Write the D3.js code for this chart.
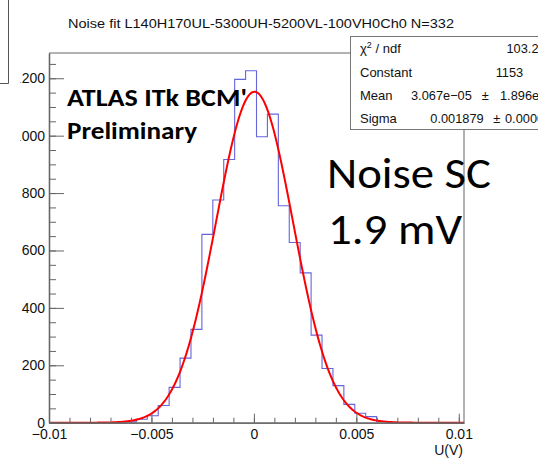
<!DOCTYPE html>
<html>
<head>
<meta charset="utf-8">
<script src="https://cdn.jsdelivr.net/npm/d3@7"></script>
<style>
  html, body { margin: 0; padding: 0; background: #fff; }
  svg { display: block; }
</style>
</head>
<body>
<svg id="chart" width="538" height="462"></svg>
<script>
// ---------------- data ----------------
const titleText = "Noise fit L140H170UL-5300UH-5200VL-100VH0Ch0 N=332";
const xAxisTitle = "U(V)";
const binStart = -0.01;
const binWidth = 0.000533;
const binCounts = [0, 0, 0, 0, 0, 0, 0, 3, 12, 24, 60, 123, 225, 325, 656, 776, 917, 1196, 1226,
                   996, 1075, 756, 628, 522, 305, 189, 129, 64, 33, 21, 4, 0, 0, 0, 0, 0, 0, 0];
const fitNames = ["Constant", "Mean", "Sigma"];
const fitValues = [1153, 3.067e-05, 0.001879];
const statLabels = ["χ² / ndf", "Constant", "Mean", "Sigma"];
const statValues = ["103.2 / 27", "1153", "3.067e−05", "0.001879"];
const statErrors = ["", "27.3", "1.896e−05", "0.000021"];
const xTickValues = [-0.01, -0.005, 0, 0.005, 0.01];
const xTickLabels = ["−0.01", "−0.005", "0", "0.005", "0.01"];
const xMinorValues = [-0.01, -0.009, -0.008, -0.007, -0.006, -0.005, -0.004, -0.003, -0.002, -0.001, 0,
                      0.001, 0.002, 0.003, 0.004, 0.005, 0.006, 0.007, 0.008, 0.009, 0.01];
const yTickValues = [0, 200, 400, 600, 800, 1000, 1200];
const yMinorValues = [0, 50, 100, 150, 200, 250, 300, 350, 400, 450, 500, 550, 600, 650, 700, 750, 800,
                      850, 900, 950, 1000, 1050, 1100, 1150, 1200, 1250];
const annotations = ["ATLAS ITk BCM'", "Preliminary"];
const noteLines = ["Noise SC", "1.9 mV"];

// ---------------- layout ----------------
const svg = d3.select("#chart");
const L = 49, R = 464, T = 53, B = 422.7;
const x = d3.scaleLinear().domain([binStart, binStart + binCounts.length * binWidth]).range([L, R]);
const y = d3.scaleLinear().domain([0, 1288]).range([B, T]);
const axisColor = "#666";
const rootFont = "'Liberation Sans', Arial, Helvetica, sans-serif";
const slideFont = "Carlito, Lato, 'Open Sans', sans-serif";

// top-left stray box
svg.append("path").attr("d", "M0,83.5H8.5V0").attr("fill", "none").attr("stroke", "#555").attr("stroke-width", 1);

// title
svg.append("text").attr("x", 68).attr("y", 28).attr("font-family", rootFont).attr("font-size", 13)
  .attr("fill", "#111").text(titleText).attr("textLength", 386).attr("lengthAdjust", "spacingAndGlyphs");

// frame top / right
svg.append("path").attr("d", `M${L},${T}H${R}V${B}`).attr("fill", "none")
  .attr("stroke", axisColor).attr("stroke-width", 1);

// histogram step outline
const histPts = [];
binCounts.forEach((c, i) => {
  const x0 = binStart + i * binWidth, x1 = binStart + (i + 1) * binWidth;
  histPts.push([x(x0), y(c)], [x(x1), y(c)]);
});
svg.append("path").attr("d", d3.line()(histPts)).attr("fill", "none")
  .attr("stroke", "#4a4ad6").attr("stroke-width", 1.1).attr("stroke-opacity", 0.85);

// fit curve (gaussian from fit parameters)
const [cst, mu, sg] = fitValues;
const xs = d3.range(0, 401).map(i => x.domain()[0] + i * (x.domain()[1] - x.domain()[0]) / 400);
svg.append("path")
  .attr("d", d3.line().x(d => x(d)).y(d => y(cst * Math.exp(-0.5 * ((d - mu) / sg) ** 2)))(xs))
  .attr("fill", "none").attr("stroke", "#ff0000").attr("stroke-width", 2);

// axes
const gx = svg.append("g").attr("transform", `translate(0,${B})`);
gx.call(d3.axisBottom(x).tickValues(xMinorValues).tickSize(-5).tickSizeOuter(0).tickFormat(""));
gx.append("g").call(d3.axisBottom(x).tickValues(xTickValues).tickSize(-9).tickSizeOuter(0)
  .tickPadding(6.5).tickFormat((d, i) => xTickLabels[i]));
gx.selectAll("path.domain").attr("stroke", axisColor).attr("stroke-width", 1.3);
gx.selectAll("line").attr("stroke", axisColor);
gx.selectAll("text").attr("font-family", rootFont).attr("font-size", 14).attr("fill", "#111");

const clip = svg.append("clipPath").attr("id", "ylabclip");
clip.append("rect").attr("x", 20.5).attr("y", 0).attr("width", 520).attr("height", 462);
const gyOuter = svg.append("g").attr("clip-path", "url(#ylabclip)");
const gy = gyOuter.append("g").attr("transform", `translate(${L},0)`);
gy.append("g").call(d3.axisLeft(y).tickValues(yMinorValues).tickSize(-7).tickSizeOuter(0).tickFormat(""));
gy.append("g").call(d3.axisLeft(y).tickValues(yTickValues).tickSize(-15).tickSizeOuter(0)
  .tickPadding(4).tickFormat(d3.format("d")));
gy.selectAll("path.domain").attr("stroke", axisColor).attr("stroke-width", 1.3);
gy.selectAll("line").attr("stroke", axisColor);
gy.selectAll("text").attr("font-family", rootFont).attr("font-size", 14).attr("fill", "#111");

// x axis title
svg.append("text").attr("x", 463).attr("y", 455).attr("text-anchor", "end")
  .attr("font-family", rootFont).attr("font-size", 14).attr("fill", "#111").text(xAxisTitle);

// stats box
const sb = svg.append("g");
sb.append("rect").attr("x", 350.5).attr("y", 36.5).attr("width", 200).attr("height", 93)
  .attr("fill", "#fff").attr("stroke", "#777").attr("stroke-width", 1);
const rowBase = [53, 76.5, 100, 123];
const valStart = [506.5, 495.7, 411, 430.3];
const pmStart = [0, 541, 481.7, 493.3];
const errStart = [0, 552, 500, 505];
statLabels.forEach((lab, i) => {
  const t = sb.append("text").attr("x", 360).attr("y", rowBase[i]).attr("font-family", rootFont)
    .attr("font-size", 13).attr("fill", "#111");
  if (i === 0) {
    t.append("tspan").text("χ");
    t.append("tspan").attr("font-size", 9).attr("dy", -5).text("2");
    t.append("tspan").attr("dy", 5).text(" / ndf");
  } else {
    t.text(lab);
  }
  sb.append("text").attr("x", valStart[i]).attr("y", rowBase[i]).attr("font-family", rootFont)
    .attr("font-size", 12.8).attr("fill", "#111").text(statValues[i]);
  if (statErrors[i]) {
    sb.append("text").attr("x", pmStart[i]).attr("y", rowBase[i]).attr("font-family", rootFont)
      .attr("font-size", 12.8).attr("fill", "#111").text("±");
    sb.append("text").attr("x", errStart[i]).attr("y", rowBase[i]).attr("font-family", rootFont)
      .attr("font-size", 12.8).attr("fill", "#111").text(statErrors[i]);
  }
});

// slide annotations
svg.append("text").attr("x", 67).attr("y", 105.5).attr("font-family", slideFont).attr("font-weight", 700)
  .attr("font-size", 25).attr("fill", "#000").text(annotations[0])
  .attr("textLength", 180).attr("lengthAdjust", "spacingAndGlyphs");
svg.append("text").attr("x", 67).attr("y", 138.5).attr("font-family", slideFont).attr("font-weight", 700)
  .attr("font-size", 25).attr("fill", "#000").text(annotations[1])
  .attr("textLength", 130).attr("lengthAdjust", "spacingAndGlyphs");
svg.append("text").attr("x", 327).attr("y", 187.5).attr("font-family", slideFont)
  .attr("font-size", 42.5).attr("fill", "#000").text(noteLines[0])
  .attr("textLength", 164).attr("lengthAdjust", "spacingAndGlyphs");
svg.append("text").attr("x", 328).attr("y", 244).attr("font-family", slideFont)
  .attr("font-size", 42.5).attr("fill", "#000").text(noteLines[1])
  .attr("textLength", 134).attr("lengthAdjust", "spacingAndGlyphs");
</script>
</body>
</html>
